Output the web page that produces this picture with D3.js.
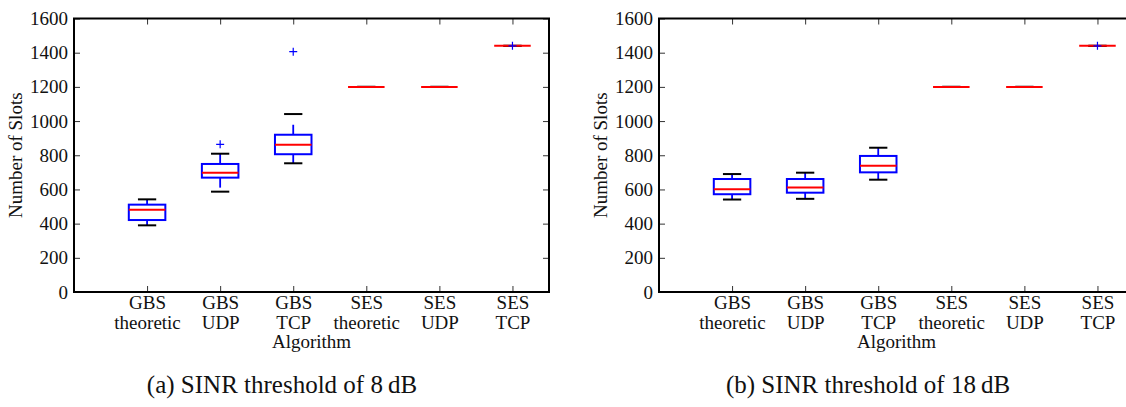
<!DOCTYPE html>
<html>
<head>
<meta charset="utf-8">
<script src="https://cdn.jsdelivr.net/npm/d3@7"></script>
<style>
  html, body { margin: 0; padding: 0; background: #fff; }
  svg { display: block; }
</style>
</head>
<body>
<svg id="chart" width="1126" height="407"></svg>
<script>
// ---- data ----
const categories = [1, 2, 3, 4, 5, 6];
const catTop = ["GBS", "GBS", "GBS", "SES", "SES", "SES"];
const catBottom = ["theoretic", "UDP", "TCP", "theoretic", "UDP", "TCP"];
const yTicks = [0, 200, 400, 600, 800, 1000, 1200, 1400, 1600];

// (a) SINR threshold of 8 dB
const aWhiskerLow  = [390, 587, 753, 1200, 1200, 1440];
const aQ1          = [421, 669, 806, 1200, 1200, 1440];
const aMedian      = [481, 698, 862, 1200, 1200, 1440];
const aQ3          = [511, 749, 920, 1200, 1200, 1440];
const aWhiskerHigh = [542, 809, 1041, 1200, 1200, 1440];
const aOutliers    = [[], [864], [1406], [], [], [1440]];

// (b) SINR threshold of 18 dB
const bWhiskerLow  = [541, 545, 657, 1200, 1200, 1440];
const bQ1          = [572, 581, 700, 1200, 1200, 1440];
const bMedian      = [601, 611, 739, 1200, 1200, 1440];
const bQ3          = [661, 661, 796, 1200, 1200, 1440];
const bWhiskerHigh = [690, 698, 844, 1200, 1200, 1440];
const bOutliers    = [[], [], [], [], [], [1440]];

const captions = ["(a) SINR threshold of 8\u2009dB", "(b) SINR threshold of 18\u2009dB"];
const xLabel = "Algorithm";
const yLabel = "Number of Slots";

const svg = d3.select("#chart");
const FONT = '"Liberation Serif", "Times New Roman", serif';

// ---- layout ----
const plotW = 475, plotTop = 18.5, plotBottom = 292;
const panels = [
  { left: 74,  capX: 282, wl: aWhiskerLow, q1: aQ1, med: aMedian, q3: aQ3, wh: aWhiskerHigh, out: aOutliers, caption: captions[0] },
  { left: 659, capX: 868, wl: bWhiskerLow, q1: bQ1, med: bMedian, q3: bQ3, wh: bWhiskerHigh, out: bOutliers, caption: captions[1] }
];

const tickFont = 19, capFont = 25;
const blue = "#0000ff", red = "#ff0000";

panels.forEach(p => {
  const x = d3.scaleLinear().domain([0, 6.5]).range([p.left, p.left + plotW]);
  const y = d3.scaleLinear().domain([0, 1600]).range([plotBottom, plotTop]);
  const g = svg.append("g");

  const axL = g.append("g").attr("transform", `translate(${p.left},0)`)
    .call(d3.axisLeft(y).tickValues(yTicks).tickSize(-6).tickPadding(6).tickFormat(d3.format("d")));
  const axR = g.append("g").attr("transform", `translate(${p.left + plotW},0)`)
    .call(d3.axisRight(y).tickValues(yTicks).tickSize(-6).tickFormat(""));
  const axB = g.append("g").attr("transform", `translate(0,${plotBottom})`)
    .call(d3.axisBottom(x).tickValues(categories).tickSize(-6).tickPadding(6).tickFormat(""));
  const axT = g.append("g").attr("transform", `translate(0,${plotTop})`)
    .call(d3.axisTop(x).tickValues(categories).tickSize(-6).tickFormat(""));
  [axL, axR, axB, axT].forEach(a => {
    a.select(".domain").remove();
    a.selectAll("line").attr("stroke", "#333").attr("stroke-width", 1);
  });
  axL.selectAll("text").attr("font-size", tickFont).style("font-family", FONT).attr("fill", "#111");

  axB.selectAll(".tick").each(function(d, i) {
    const t = d3.select(this).append("text").attr("text-anchor", "middle")
      .attr("font-size", tickFont).style("font-family", FONT).attr("fill", "#111");
    t.append("tspan").attr("x", 0).attr("y", 17).text(catTop[i]);
    t.append("tspan").attr("x", 0).attr("y", 37).text(catBottom[i]);
  });

  g.append("rect").attr("x", p.left).attr("y", plotTop).attr("width", plotW).attr("height", plotBottom - plotTop)
    .attr("fill", "none").attr("stroke", "#000").attr("stroke-width", 2);

  const bw = 0.25, cw = 0.125;
  const boxes = g.append("g");
  categories.forEach((c, i) => {
    const cx = x(c);
    boxes.append("line").attr("x1", cx).attr("x2", cx).attr("y1", y(p.q3[i])).attr("y2", y(p.wh[i]))
      .attr("stroke", blue).attr("stroke-width", 1.8).attr("stroke-dasharray", "10,10");
    boxes.append("line").attr("x1", cx).attr("x2", cx).attr("y1", y(p.q1[i])).attr("y2", y(p.wl[i]))
      .attr("stroke", blue).attr("stroke-width", 1.8).attr("stroke-dasharray", "10,10");
    [p.wl[i], p.wh[i]].forEach(v => {
      boxes.append("line").attr("x1", x(c - cw)).attr("x2", x(c + cw)).attr("y1", y(v)).attr("y2", y(v))
        .attr("stroke", "#000").attr("stroke-width", 2);
    });
    boxes.append("rect").attr("x", x(c - bw)).attr("width", x(c + bw) - x(c - bw))
      .attr("y", y(p.q3[i])).attr("height", y(p.q1[i]) - y(p.q3[i]))
      .attr("fill", "none").attr("stroke", blue).attr("stroke-width", 2);
    boxes.append("line").attr("x1", x(c - bw)).attr("x2", x(c + bw)).attr("y1", y(p.med[i])).attr("y2", y(p.med[i]))
      .attr("stroke", red).attr("stroke-width", 2);
    p.out[i].forEach(v => {
      const oy = y(v);
      boxes.append("path").attr("d", `M${cx - 4},${oy}H${cx + 4}M${cx},${oy - 4}V${oy + 4}`)
        .attr("stroke", blue).attr("stroke-width", 1.2).attr("fill", "none");
    });
  });

  g.append("text").attr("x", p.left + plotW / 2).attr("y", 348).attr("text-anchor", "middle")
    .attr("font-size", tickFont).style("font-family", FONT).attr("fill", "#111").text(xLabel);
  g.append("text").attr("transform", `translate(${p.left - 52},${(plotTop + plotBottom) / 2}) rotate(-90)`)
    .attr("text-anchor", "middle").attr("font-size", tickFont).style("font-family", FONT).attr("fill", "#111").text(yLabel);

  g.append("text").attr("x", p.capX).attr("y", 393).attr("text-anchor", "middle")
    .attr("font-size", capFont).style("font-family", FONT).attr("fill", "#111").text(p.caption);
});
</script>
</body>
</html>
